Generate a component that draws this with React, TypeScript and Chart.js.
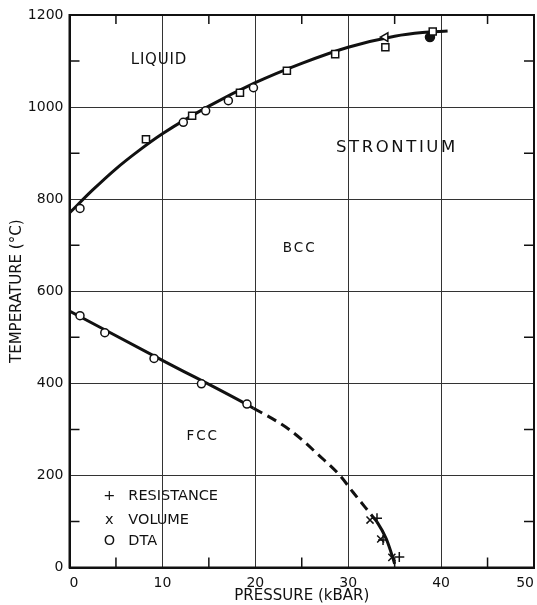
import React, { useEffect, useRef } from "react";
import { Chart, registerables } from "chart.js";

Chart.register(...registerables);

// ---- axis ticks ----
const xMinorTicks = [5, 15, 25, 35, 45];
const yMinorTicks = [100, 300, 500, 700, 900, 1100];

// ---- phase boundary curves ----
const meltingCurve = [
  { x: 0, y: 770 }, { x: 2.5, y: 820 }, { x: 5, y: 866 }, { x: 7.5, y: 906 },
  { x: 10, y: 942 }, { x: 15, y: 1002 }, { x: 20, y: 1053 }, { x: 25, y: 1095 },
  { x: 30, y: 1130 }, { x: 35, y: 1154 }, { x: 38, y: 1162 }, { x: 40.7, y: 1165 },
];
const fccBccCurve = [
  { x: 0, y: 557 }, { x: 10, y: 450 }, { x: 19.8, y: 346 }, { x: 23.7, y: 299 },
  { x: 27, y: 241 }, { x: 29.1, y: 200 }, { x: 30.5, y: 164 }, { x: 32.5, y: 114 },
  { x: 33.1, y: 99 }, { x: 34.1, y: 62 }, { x: 34.85, y: 18 }, { x: 35.0, y: 8 },
];
const dashedStartIndex = 2;
const dashedEndIndex = 8;

// ---- measured points ----
const dtaPoints = [
  { x: 1.13, y: 780 }, { x: 12.25, y: 967 }, { x: 14.66, y: 992 }, { x: 17.1, y: 1014 },
  { x: 19.8, y: 1042 },
  { x: 1.13, y: 547 }, { x: 3.8, y: 510 }, { x: 9.1, y: 454 }, { x: 14.2, y: 399 },
  { x: 19.1, y: 355 },
];
const squarePoints = [
  { x: 8.23, y: 930 }, { x: 13.2, y: 981 }, { x: 18.35, y: 1031 }, { x: 23.4, y: 1079 },
  { x: 28.6, y: 1115 }, { x: 34.0, y: 1130 }, { x: 39.1, y: 1164 },
];
const trianglePoints = [{ x: 34.0, y: 1152 }];
const filledPoints = [{ x: 38.8, y: 1152 }];
const resistancePoints = [{ x: 33.1, y: 107 }, { x: 33.75, y: 60 }, { x: 35.5, y: 23 }];
const volumePoints = [{ x: 32.35, y: 103 }, { x: 33.5, y: 62 }, { x: 34.7, y: 22 }];

// ---- text annotations ----
const regionLabels = [
  { text: "LIQUID", x: 9.58, y: 1101, size: 15, spacing: 0.8 },
  { text: "STRONTIUM", x: 35.1, y: 912, size: 16.5, spacing: 2.6 },
  { text: "BCC", x: 24.67, y: 693, size: 13.5, spacing: 2 },
  { text: "FCC", x: 14.23, y: 284, size: 13.5, spacing: 2 },
];
const legendSymbols = ["+", "x", "O"];
const legendNames = ["RESISTANCE", "VOLUME", "DTA"];
const legendRowsY = [154, 103, 57];
const legendSymbolX = 4.29;
const legendTextX = 6.33;

const FONT = "'DejaVu Sans', 'Liberation Sans', sans-serif";
const INK = "#111";

const decorPlugin = {
  id: "decor",
  afterDraw(chart: any) {
    const { ctx, chartArea: a, scales } = chart;
    const xs = scales.x;
    const ys = scales.y;
    ctx.save();
    // frame
    ctx.strokeStyle = INK;
    ctx.lineWidth = 2;
    ctx.strokeRect(a.left, a.top, a.right - a.left, a.bottom - a.top);
    // minor ticks (inward, all four sides)
    ctx.lineWidth = 1.5;
    ctx.beginPath();
    for (const v of xMinorTicks) {
      const px = xs.getPixelForValue(v);
      ctx.moveTo(px, a.bottom);
      ctx.lineTo(px, a.bottom - 10);
      ctx.moveTo(px, a.top);
      ctx.lineTo(px, a.top + 9);
    }
    for (const v of yMinorTicks) {
      const py = ys.getPixelForValue(v);
      ctx.moveTo(a.left, py);
      ctx.lineTo(a.left + 10, py);
      ctx.moveTo(a.right, py);
      ctx.lineTo(a.right - 10, py);
    }
    ctx.stroke();
    // region labels
    ctx.fillStyle = INK;
    ctx.textBaseline = "middle";
    for (const l of regionLabels) {
      ctx.font = `${l.size}px ${FONT}`;
      (ctx as any).letterSpacing = `${l.spacing}px`;
      ctx.textAlign = "center";
      ctx.fillText(l.text, xs.getPixelForValue(l.x) + l.spacing / 2, ys.getPixelForValue(l.y));
    }
    // legend
    (ctx as any).letterSpacing = "0px";
    ctx.font = `14.5px ${FONT}`;
    legendNames.forEach((name, i) => {
      const py = ys.getPixelForValue(legendRowsY[i]);
      ctx.textAlign = "center";
      ctx.fillText(legendSymbols[i], xs.getPixelForValue(legendSymbolX), py);
      ctx.textAlign = "left";
      ctx.fillText(name, xs.getPixelForValue(legendTextX), py);
    });
    ctx.restore();
  },
};

const whiteBg = {
  id: "whiteBg",
  beforeDraw(chart: any) {
    const { ctx, width, height } = chart;
    ctx.save();
    ctx.fillStyle = "#fff";
    ctx.fillRect(0, 0, width, height);
    ctx.restore();
  },
};

export default function App() {
  const ref = useRef<HTMLCanvasElement | null>(null);

  useEffect(() => {
    if (!ref.current) return;
    const marker = (data: any[], extra: any) => ({
      data,
      showLine: false,
      order: 0,
      borderColor: INK,
      backgroundColor: "#fff",
      pointBorderWidth: 1.5,
      ...extra,
    });
    const chart = new Chart(ref.current, {
      type: "scatter",
      data: {
        datasets: [
          marker(dtaPoints, { label: "DTA", pointStyle: "circle", pointRadius: 4 }),
          marker(squarePoints, { label: "Squares", pointStyle: "rect", pointRadius: 5 }),
          marker(trianglePoints, { label: "Triangle", pointStyle: "triangle", pointRadius: 5, pointRotation: 270 }),
          marker(filledPoints, { label: "Filled", pointStyle: "circle", pointRadius: 4.5, backgroundColor: INK }),
          marker(resistancePoints, { label: "RESISTANCE", pointStyle: "cross", pointRadius: 5 }),
          marker(volumePoints, { label: "VOLUME", pointStyle: "crossRot", pointRadius: 5 }),
          {
            label: "Melting",
            data: meltingCurve,
            showLine: true,
            order: 1,
            pointRadius: 0,
            borderColor: INK,
            borderWidth: 3,
            cubicInterpolationMode: "monotone",
          },
          {
            label: "FCC-BCC",
            data: fccBccCurve,
            showLine: true,
            order: 1,
            pointRadius: 0,
            borderColor: INK,
            borderWidth: 3,
            cubicInterpolationMode: "monotone",
            segment: {
              borderDash: (c: any) =>
                c.p0DataIndex >= dashedStartIndex && c.p0DataIndex < dashedEndIndex ? [10, 6] : undefined,
            },
          },
        ] as any,
      },
      options: {
        animation: false,
        responsive: false,
        devicePixelRatio: 1,
        layout: { autoPadding: false, padding: { top: 15, right: 3, left: 0, bottom: 0 } },
        plugins: { legend: { display: false }, tooltip: { enabled: false } },
        scales: {
          x: {
            type: "linear",
            min: 0,
            max: 50,
            ticks: {
              stepSize: 10,
              align: "inner",
              color: INK,
              font: { family: FONT, size: 14, lineHeight: 2.2 },
              padding: 0,
              callback: (v: any) => String(v),
            },
            grid: { color: "#333", lineWidth: 1, drawTicks: false },
            border: { color: INK, width: 2 },
            title: {
              display: true,
              text: "PRESSURE (kBAR)",
              color: INK,
              font: { family: FONT, size: 15 },
              padding: { top: 0, bottom: 0 },
            },
            afterFit: (s: any) => {
              s.height = 37.5;
              s.paddingLeft = 0;
              s.paddingRight = 0;
            },
          },
          y: {
            type: "linear",
            min: 0,
            max: 1200,
            ticks: {
              stepSize: 200,
              color: INK,
              font: { family: FONT, size: 14 },
              padding: 6,
              callback: (v: any) => String(v),
            },
            grid: { color: "#333", lineWidth: 1, drawTicks: false },
            border: { color: INK, width: 2 },
            title: {
              display: true,
              text: "TEMPERATURE (°C)",
              color: INK,
              font: { family: FONT, size: 15 },
              padding: { top: 8, bottom: 0 },
            },
            afterFit: (s: any) => {
              s.width = 69.5;
              s.paddingTop = 0;
              s.paddingBottom = 0;
            },
          },
        },
      } as any,
      plugins: [whiteBg, decorPlugin],
    });
    return () => chart.destroy();
  }, []);

  return (
    <div style={{ position: "absolute", left: 0, top: 0, width: 537, height: 605, background: "#fff" }}>
      <canvas ref={ref} width={537} height={605} style={{ display: "block" }} />
    </div>
  );
}
